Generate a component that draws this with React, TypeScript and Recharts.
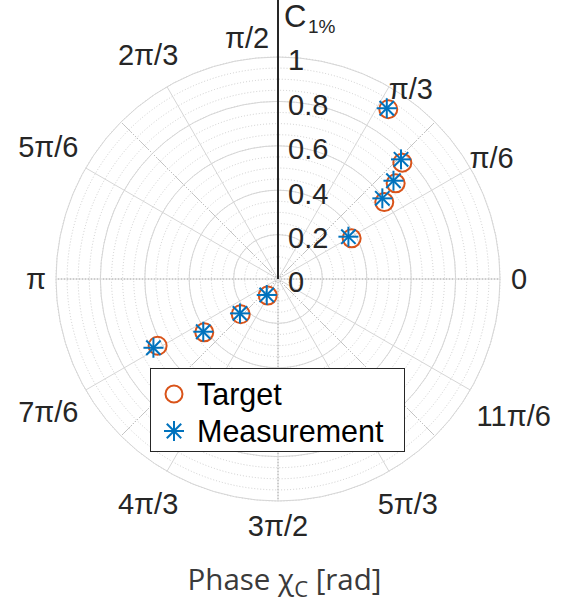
import {
  RadarChart,
  Radar,
  PolarGrid,
  PolarAngleAxis,
  PolarRadiusAxis,
  Legend,
} from 'recharts';

// phase axis ticks (deg) and their labels in rad
const angleTicks = [0, 30, 60, 90, 120, 150, 180, 210, 240, 270, 300, 330];
const angleLabels = ['0', 'π/6', 'π/3', 'π/2', '2π/3', '5π/6', 'π', '7π/6', '4π/3', '3π/2', '5π/3', '11π/6'];
const radiusTicks = [0, 0.2, 0.4, 0.6, 0.8, 1];
const radiusLabels = ['0', '0.2', '0.4', '0.6', '0.8', '1'];

// target points: phase (deg) and amplitude C_1%
const targetPhase = [57, 43.1, 39.1, 35.9, 28.9, 238.3, 223.4, 215.9, 209];
const targetAmp = [0.912, 0.767, 0.683, 0.591, 0.379, 0.088, 0.231, 0.41, 0.62];
// measured points
const measPhase = [57.5, 44.2, 40.4, 37.7, 31, 234.8, 222.1, 215.2, 208.9];
const measAmp = [0.912, 0.773, 0.683, 0.594, 0.37, 0.088, 0.231, 0.412, 0.641];

const minorAngleTicks = Array.from({ length: 120 }, (_, i) => i * 3);
const minorRadiusTicks = Array.from({ length: 21 }, (_, i) => +(i * 0.05).toFixed(2));

const rows = targetPhase.map((p, i) => ({
  tA: p,
  tR: targetAmp[i],
  mA: measPhase[i],
  mR: measAmp[i],
}));

const ORANGE = '#D95319';
const BLUE = '#0072BD';
const INK = '#262626';
const FONT = "'Liberation Sans', Arial, sans-serif";
const TICK_FS = 29;

// small manual nudges for labels that sit off the regular ring
const labelNudge: Record<number, [number, number]> = {
  30: [-10, 8],
  60: [5, 31],
  90: [-31, 6],
};

function labelWidth(s: string) {
  let w = 0;
  for (const ch of s) w += ch === '/' ? 0.278 : ch === 'π' ? 0.62 : 0.556;
  return w * TICK_FS;
}

function AngleTick(props: any) {
  const { x, y, payload } = props;
  const label = angleLabels[angleTicks.indexOf(payload.value)] ?? '';
  const rad = (payload.coordinate * Math.PI) / 180;
  const c = Math.cos(rad);
  const s = Math.sin(rad);
  const extra = 3 + (Math.abs(c) * labelWidth(label)) / 2 + Math.abs(s) * 14;
  const [nx, ny] = labelNudge[payload.value] ?? [0, 0];
  return (
    <text
      x={x + c * extra + nx}
      y={y - s * extra + ny}
      dy="0.36em"
      textAnchor="middle"
      fontFamily={FONT}
      fontSize={TICK_FS}
      fill={INK}
    >
      {label}
    </text>
  );
}

function RadiusTick(props: any) {
  const { x, y, payload } = props;
  const label = radiusLabels[radiusTicks.indexOf(payload.value)] ?? '';
  return (
    <g>
      <text x={x + 10} y={y + 3} dy="0.36em" fontFamily={FONT} fontSize={TICK_FS} fill={INK}>
        {label}
      </text>
      {payload.value === 1 && (
        <g>
          <line x1={x} y1={y} x2={x} y2={y - 57} stroke={INK} strokeWidth={2} />
          <text x={x + 6} y={y - 30} fontFamily={FONT} fontSize={31} fill={INK}>
            C
          </text>
          <text x={x + 30} y={y - 24} fontFamily={FONT} fontSize={19} fill={INK}>
            1%
          </text>
        </g>
      )}
    </g>
  );
}

function Star({ cx, cy, size = 10 }: { cx: number; cy: number; size?: number }) {
  const d = size * 0.72;
  return (
    <g stroke={BLUE} strokeWidth={2}>
      <line x1={cx - size} y1={cy} x2={cx + size} y2={cy} />
      <line x1={cx} y1={cy - size} x2={cx} y2={cy + size} />
      <line x1={cx - d} y1={cy - d} x2={cx + d} y2={cy + d} />
      <line x1={cx - d} y1={cy + d} x2={cx + d} y2={cy - d} />
    </g>
  );
}

const TargetDot = (p: any) => (
  <circle key={p.key} cx={p.cx} cy={p.cy} r={9} fill="none" stroke={ORANGE} strokeWidth={2} />
);
const MeasDot = (p: any) => <Star key={p.key} cx={p.cx} cy={p.cy} />;

function LegendBox() {
  return (
    <svg width={256} height={85} style={{ display: 'block' }}>
      <rect x={0.5} y={0.5} width={254} height={83} fill="#fff" stroke={INK} />
      <circle cx={24} cy={26} r={8.5} fill="none" stroke={ORANGE} strokeWidth={2} />
      <Star cx={24} cy={63} />
      <text x={47} y={26} dy="0.36em" fontFamily={FONT} fontSize={30.5} fill="#000">
        Target
      </text>
      <text x={47} y={63} dy="0.36em" fontFamily={FONT} fontSize={30.5} fill="#000">
        Measurement
      </text>
    </svg>
  );
}

export default function App() {
  return (
    <div style={{ position: 'absolute', left: 0, top: 0, width: 562, height: 602, background: '#fff' }}>
      <RadarChart
        width={562}
        height={602}
        data={rows}
        cx={278}
        cy={279}
        innerRadius={0}
        outerRadius={222}
        startAngle={0}
        endAngle={360}
        margin={{ top: 0, right: 0, bottom: 0, left: 0 }}
      >
        <PolarAngleAxis
          angleAxisId="minor"
          type="number"
          domain={[0, 360]}
          allowDataOverflow
          ticks={minorAngleTicks}
          tick={false}
          tickLine={false}
          axisLine={false}
        />
        <PolarAngleAxis
          angleAxisId="tA"
          dataKey="tA"
          type="number"
          domain={[0, 360]}
          allowDataOverflow
          ticks={angleTicks}
          tick={AngleTick}
          tickLine={false}
          axisLine={false}
        />
        <PolarAngleAxis
          angleAxisId="mA"
          dataKey="mA"
          type="number"
          domain={[0, 360]}
          allowDataOverflow
          ticks={angleTicks}
          tick={false}
          tickLine={false}
          axisLine={false}
        />
        <PolarRadiusAxis
          radiusAxisId="minor"
          angle={90}
          type="number"
          domain={[0, 1]}
          allowDataOverflow
          ticks={minorRadiusTicks}
          tick={false}
          tickLine={false}
          axisLine={false}
        />
        <PolarGrid
          angleAxisId="minor"
          radiusAxisId="minor"
          gridType="circle"
          stroke="#c2c2c2"
          strokeWidth={0.8}
          strokeDasharray="1 2"
        />
        <PolarGrid angleAxisId="tA" radiusAxisId="r" gridType="circle" stroke="#d6d6d6" strokeWidth={1} />
        <PolarRadiusAxis
          radiusAxisId="r"
          angle={90}
          type="number"
          domain={[0, 1]}
          allowDataOverflow
          ticks={radiusTicks}
          tick={RadiusTick}
          tickLine={false}
          axisLine={{ stroke: INK, strokeWidth: 2 }}
        />
        <Radar
          name="Target"
          dataKey="tR"
          angleAxisId="tA"
          radiusAxisId="r"
          stroke="none"
          fill="none"
          fillOpacity={0}
          dot={TargetDot}
          activeDot={false}
          isAnimationActive={false}
        />
        <Radar
          name="Measurement"
          dataKey="mR"
          angleAxisId="mA"
          radiusAxisId="r"
          stroke="none"
          fill="none"
          fillOpacity={0}
          dot={MeasDot}
          activeDot={false}
          isAnimationActive={false}
        />
        <Legend
          layout="horizontal"
          verticalAlign="middle"
          align="center"
          content={() => <LegendBox />}
          wrapperStyle={{ left: 150, top: 368, width: 256, height: 85 }}
        />
      </RadarChart>
      <svg width={562} height={602} style={{ position: 'absolute', left: 0, top: 0, pointerEvents: 'none' }}>
        <text x={284.5} y={590} textAnchor="middle" fontFamily="'Open Sans', sans-serif" fontSize={29.5} fill="#3a3a3a">
          Phase χ
          <tspan fontSize={22} dy={7}>
            C
          </tspan>
          <tspan dy={-7}> [rad]</tspan>
        </text>
      </svg>
    </div>
  );
}
